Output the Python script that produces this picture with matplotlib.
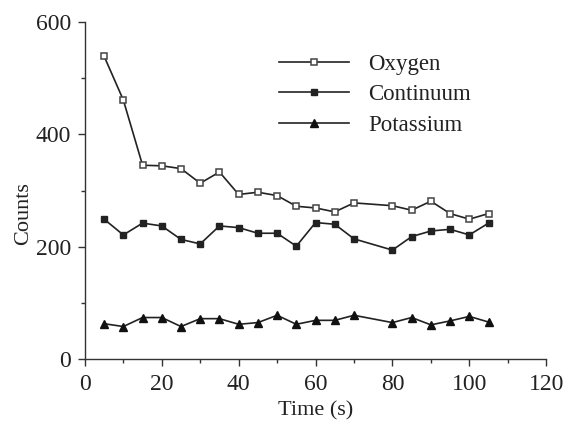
import matplotlib
matplotlib.use("Agg")
import matplotlib.pyplot as plt
from matplotlib.ticker import MultipleLocator

time_s = [5, 10, 15, 20, 25, 30, 35, 40, 45, 50, 55, 60, 65, 70, 80, 85, 90, 95, 100, 105]
oxygen = [539, 461, 345, 344, 339, 313, 333, 293, 297, 291, 272, 269, 262, 278, 273, 265, 281, 259, 249, 259]
continuum = [249, 221, 242, 237, 213, 205, 237, 234, 224, 224, 201, 243, 240, 214, 194, 218, 228, 231, 221, 242]
potassium = [63, 58, 74, 74, 58, 72, 72, 62, 65, 78, 62, 69, 69, 78, 65, 74, 61, 68, 76, 66]

plt.rcParams['font.family'] = ['Liberation Serif', 'DejaVu Serif']

fig = plt.figure(figsize=(5.66, 4.22), dpi=100)
ax = fig.add_axes([0.150, 0.149, 0.815, 0.799])

lc = '#222222'
ax.plot(time_s, oxygen, color=lc, lw=1.2, marker='s', ms=5, mfc='white',
        mec='#444444', mew=1.1, label='Oxygen')
ax.plot(time_s, continuum, color=lc, lw=1.2, marker='s', ms=5, mfc='#222222',
        mec='#222222', label='Continuum')
ax.plot(time_s, potassium, color=lc, lw=1.2, marker='^', ms=5.5, mfc='#111111',
        mec='#111111', label='Potassium')

ax.set_xlim(0, 120)
ax.set_ylim(0, 600)
ax.xaxis.set_major_locator(MultipleLocator(20))
ax.xaxis.set_minor_locator(MultipleLocator(10))
ax.yaxis.set_major_locator(MultipleLocator(200))
ax.yaxis.set_minor_locator(MultipleLocator(100))
ax.spines['top'].set_visible(False)
ax.spines['right'].set_visible(False)
for s in ('left', 'bottom'):
    ax.spines[s].set_color('#333333')
    ax.spines[s].set_linewidth(1.0)
ax.tick_params(which='major', direction='out', length=5, width=1, colors='#333333',
               labelsize=17, labelcolor='#222222')
ax.tick_params(axis='x', which='major', pad=6)
ax.tick_params(axis='y', which='major', pad=5)
ax.tick_params(which='minor', direction='out', length=3, width=1, colors='#333333')

ax.set_xlabel('Time (s)', fontsize=16, color='#222222', labelpad=4)
ax.set_ylabel('Counts', fontsize=16, color='#222222')
ax.yaxis.set_label_coords(-0.112, 0.433)

leg = ax.legend(loc='upper left', bbox_to_anchor=(0.376, 0.967), frameon=False,
                fontsize=16.5, handlelength=3.05, handletextpad=0.83, labelspacing=0.41,
                labelcolor='#222222')

fig.savefig('out.png', dpi=100)
